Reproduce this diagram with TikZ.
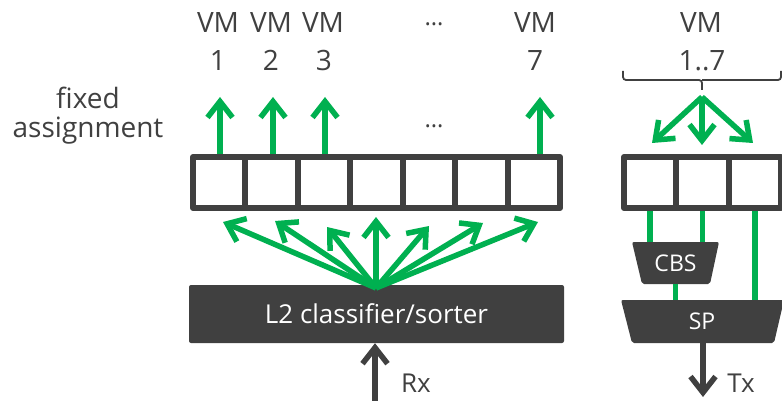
\documentclass[tikz,border=0pt]{standalone}
\usepackage{fontspec}
\setmainfont{Open Sans}
\usetikzlibrary{arrows.meta}
\definecolor{ink}{HTML}{404040}
\definecolor{grn}{HTML}{00B050}
\tikzset{
  cell/.style={draw=ink, line width=6pt, line join=round, minimum width=52.4pt,
    minimum height=51pt, inner sep=0pt},
  lbl/.style={text=ink, anchor=base, inner sep=0pt, font=\fontsize{28}{32}\selectfont},
  dots/.style={text=ink, anchor=base, inner sep=0pt, font=\fontsize{24}{28}\selectfont},
  tip/.style={-{Straight Barb[length=16pt,width=25pt]}},
  garrow/.style={draw=grn, line width=5.5pt, tip},
  gline/.style={draw=grn, line width=5.5pt},
  darrow/.style={draw=ink, line width=5.5pt, tip},
  block/.style={fill=ink, text=white, rounded corners=2pt, inner sep=0pt,
    font=\fontsize{26}{30}\selectfont},
  traptext/.style={text=white, inner sep=0pt, font=\fontsize{23}{26}\selectfont},
}
\begin{document}
\begin{tikzpicture}[x=1pt,y=-1pt]
\useasboundingbox (0,0) rectangle (782,401);
\clip (0,0) rectangle (782,401);

% left register: seven queues
\foreach \k in {1,...,7}
  \node[cell] (q\k) at ({193+52.43*(\k-0.5)},182.5) {};
% right register: three queues
\foreach \k in {1,...,3}
  \node[cell] (r\k) at ({624+52.3*(\k-0.5)},182.5) {};

% VM labels
\node[lbl] (vm1) at (218,33) {VM};
\node[lbl] (vm2) at (271,33) {VM};
\node[lbl] (vm3) at (323,33) {VM};
\node[lbl] (vm7) at (535,33) {VM};
\node[lbl] (vmr) at (701,33) {VM};
\node[lbl] (n1) at (218,71) {1};
\node[lbl] (n2) at (271,71) {2};
\node[lbl] (n3) at (324,71) {3};
\node[lbl] (n7) at (535,71) {7};
\node[lbl] (nr) at (702,71) {1..7};
\node[dots] (d1) at (434,26) {…};
\node[dots] (d2) at (434,128) {…};
\node[text=ink, align=center, inner sep=0pt, font=\fontsize{28}{29}\selectfont]
  (fa) at (88,116) {fixed\\assignment};

% classifier and Rx
\node[block, minimum width=375pt, minimum height=58pt] (cls) at (376.5,314) {L2 classifier/sorter};
\coordinate (rxin) at (375,401);
\draw[darrow] (rxin) -- (cls.south -| rxin);
\node[lbl, font=\fontsize{26}{30}\selectfont] (rx) at (416,392) {Rx};

% fixed assignment arrows
\coordinate (t1) at (220,97);
\coordinate (t2) at (273,97);
\coordinate (t3) at (325,97);
\coordinate (t7) at (540,97);
\draw[garrow] (q1.north -| t1) -- (t1);
\draw[garrow] (q2.north -| t2) -- (t2);
\draw[garrow] (q3.north -| t3) -- (t3);
\draw[garrow] (q7.north -| t7) -- (t7);

% classifier fan-out
\coordinate (fo) at (376,288);
\foreach \x/\y [count=\i] in {223/222, 275/221, 327/227, 376/217, 429/226, 483/223, 538/222}
  \coordinate (f\i) at (\x,\y);
\foreach \i in {1,...,7}
  \draw[garrow] (fo) -- (f\i);

% brace over the shared queues
\draw[ink, line width=1.8pt, rounded corners=3pt] (623,71) -- (623,80) -- (702,80) -- (702,90);
\draw[ink, line width=1.8pt, rounded corners=3pt] (702,80) -- (781,80) -- (781,71);

% shared fan-in
\coordinate (fr) at (702,97);
\coordinate (g1) at (652,143);
\coordinate (g2) at (702,145);
\coordinate (g3) at (753,143);
\foreach \i in {1,2,3}
  \draw[garrow] (fr) -- (g\i);

% CBS and SP trapezoids
\fill[ink, rounded corners=2pt] (632,242) -- (719,242) -- (710,284) -- (642,284) -- cycle;
\fill[ink, rounded corners=2pt] (621,300) -- (784,300) -- (774,343) -- (632,343) -- cycle;
\node[traptext, minimum width=87pt, minimum height=42pt] (cbs) at (675.5,263) {CBS};
\node[traptext, minimum width=162pt, minimum height=43pt] (sp) at (702,321.5) {SP};
\draw[gline] (r1.south) -- (r1.south |- cbs.north);
\draw[gline] (r2.south) -- (r2.south |- cbs.north);
\draw[gline] (r3.south) -- (r3.south |- sp.north);
\draw[gline] (cbs.south) -- (cbs.south |- sp.north);

% Tx
\coordinate (txout) at (703,397);
\draw[darrow] (sp.south -| txout) -- (txout);
\node[lbl, font=\fontsize{26}{30}\selectfont] (tx) at (741,392) {Tx};
\end{tikzpicture}
\end{document}
